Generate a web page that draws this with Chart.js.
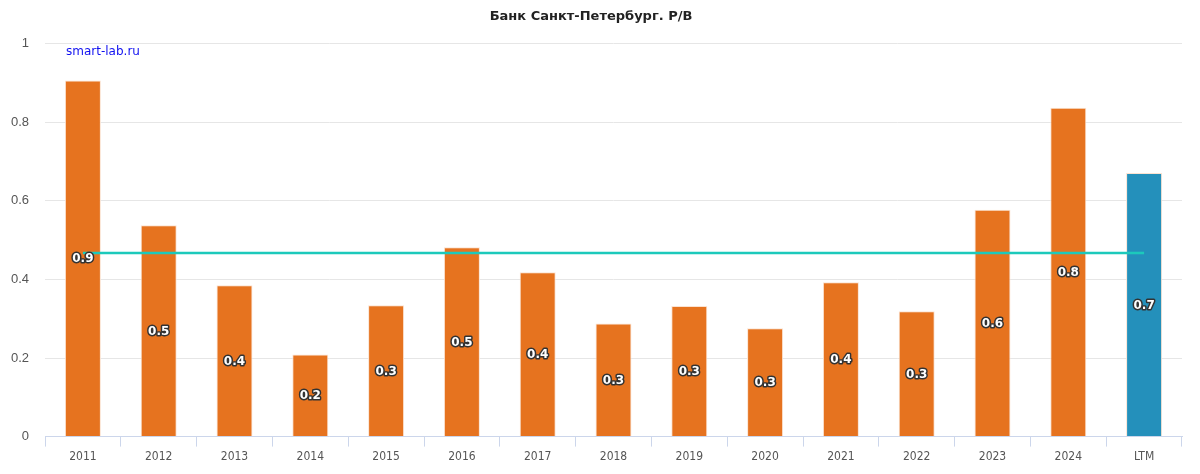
<!DOCTYPE html>
<html>
<head>
<meta charset="utf-8">
<script src="https://cdn.jsdelivr.net/npm/chart.js@4"></script>
<style>
    html, body { margin: 0; padding: 0; background: #fff; }
    #wrap { width: 1200px; height: 474px; }
</style>
</head>
<body>
<div id="wrap"><canvas id="myChart"></canvas></div>
<script>
const years = ['2011', '2012', '2013', '2014', '2015', '2016', '2017', '2018', '2019', '2020', '2021', '2022', '2023', '2024', 'LTM'];
const pbValues = [0.906, 0.538, 0.385, 0.209, 0.334, 0.482, 0.418, 0.288, 0.332, 0.276, 0.393, 0.319, 0.577, 0.837, 0.671];
const barColors = ['#e6731f', '#e6731f', '#e6731f', '#e6731f', '#e6731f', '#e6731f', '#e6731f', '#e6731f',
    '#e6731f', '#e6731f', '#e6731f', '#e6731f', '#e6731f', '#e6731f', '#2490bb'];
const averageValue = 0.467;
const yTicks = [0, 0.2, 0.4, 0.6, 0.8, 1];

const condensed = "'DejaVu Sans Condensed', 'DejaVu Sans', sans-serif";
const dejavu = "'DejaVu Sans', sans-serif";
const arial = "'Liberation Sans', Arial, sans-serif";

// labels in the middle of each bar + the watermark
const barLabels = {
    id: 'barLabels',
    afterDatasetsDraw(chart) {
        const ctx = chart.ctx;
        const meta = chart.getDatasetMeta(1);
        ctx.save();
        ctx.font = 'bold 12px ' + dejavu;
        ctx.textAlign = 'center';
        ctx.textBaseline = 'middle';
        ctx.lineJoin = 'round';
        meta.data.forEach((bar, i) => {
            const text = pbValues[i].toFixed(1);
            const y = (bar.y + bar.base) / 2 + 1;
            ctx.lineWidth = 3;
            ctx.strokeStyle = '#333333';
            ctx.strokeText(text, bar.x, y);
            ctx.fillStyle = '#ffffff';
            ctx.fillText(text, bar.x, y);
        });
        ctx.font = '12px ' + dejavu;
        ctx.textAlign = 'left';
        ctx.textBaseline = 'alphabetic';
        ctx.fillStyle = '#1010f0';
        ctx.fillText('smart-lab.ru', 66, 55);
        ctx.restore();
    }
};

const data = {
    labels: years,
    datasets: [{
        type: 'line',
        label: 'average',
        data: [{ x: years[0], y: averageValue }, { x: years[years.length - 1], y: averageValue }],
        borderColor: '#1cc9bb',
        borderWidth: 2.5,
        pointRadius: 0,
        fill: false,
        order: 0
    }, {
        type: 'bar',
        label: 'P/B',
        data: pbValues,
        backgroundColor: barColors,
        borderColor: '#fbe3d2',
        borderWidth: 1,
        barPercentage: 0.475,
        categoryPercentage: 1,
        order: 1
    }]
};

const config = {
    type: 'bar',
    data: data,
    options: {
        responsive: false,
        animation: false,
        layout: { padding: { left: 0, right: 18, top: 0, bottom: 7 } },
        plugins: {
            legend: { display: false },
            tooltip: { enabled: false },
            title: {
                display: true,
                text: 'Банк Санкт-Петербург. P/B',
                color: '#222222',
                font: { family: dejavu, size: 13, weight: 'bold' },
                padding: { top: 9, bottom: 19 }
            }
        },
        scales: {
            x: {
                offset: true,
                grid: {
                    offset: true,
                    drawOnChartArea: false,
                    drawTicks: true,
                    tickLength: 10,
                    color: '#ccd6eb'
                },
                border: { color: '#ccd6eb' },
                ticks: {
                    color: '#555555',
                    padding: 3,
                    maxRotation: 0,
                    font: { family: condensed, size: 12 }
                }
            },
            y: {
                min: 0,
                max: 1,
                afterFit(scale) { scale.width = 45; },
                afterBuildTicks(scale) { scale.ticks = yTicks.map(v => ({ value: v })); },
                grid: { color: '#e6e6e6', drawTicks: false },
                border: { display: false },
                ticks: {
                    color: '#555555',
                    padding: 16,
                    font: { family: arial, size: 13 },
                    callback: v => String(v)
                }
            }
        }
    },
    plugins: [barLabels]
};

const canvas = document.getElementById('myChart');
canvas.width = 1200;
canvas.height = 474;
new Chart(canvas, config);
</script>
</body>
</html>
